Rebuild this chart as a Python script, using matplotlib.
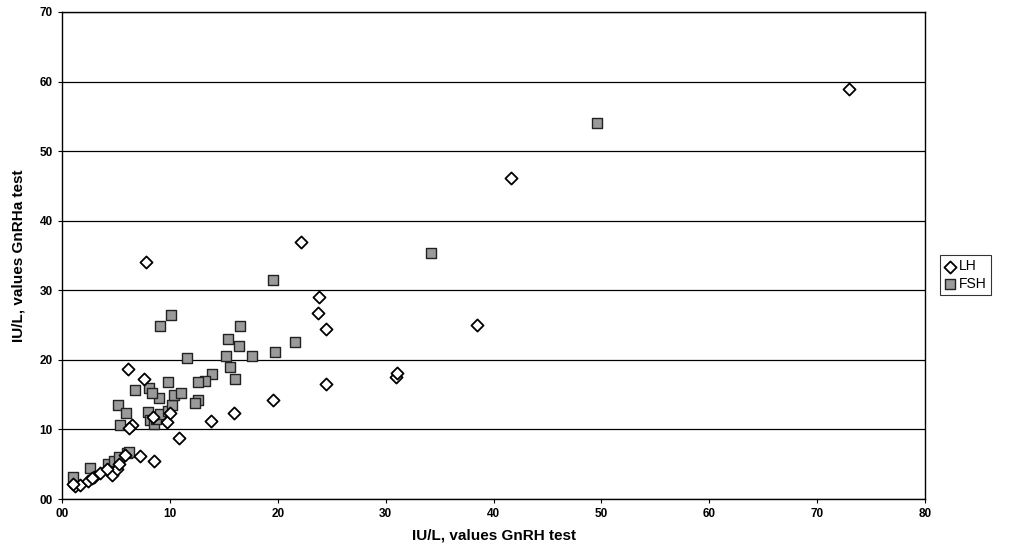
import matplotlib.pyplot as plt
from matplotlib.ticker import FuncFormatter

plt.rcParams['font.family'] = ['Liberation Sans', 'DejaVu Sans']

# LH - GnRH test vs GnRHa test
lh_x = [73.0, 41.6, 38.5, 31.0, 31.1, 24.5, 24.5, 23.8, 23.7, 22.2, 19.6, 15.9,
        13.8, 10.8, 9.7, 7.8, 7.6, 6.1, 8.5, 7.2, 6.5, 6.2, 8.4, 10.0,
        1.2, 1.7, 2.4, 3.0, 2.8, 3.5, 4.6, 5.1, 5.3, 4.2, 5.8, 1.0]
lh_y = [59.0, 46.2, 25.0, 17.6, 18.1, 16.6, 24.5, 29.0, 26.8, 37.0, 14.3, 12.4,
        11.2, 8.7, 11.0, 34.0, 17.2, 18.7, 5.5, 6.2, 10.6, 10.2, 11.8, 12.4,
        1.8, 2.0, 2.6, 3.2, 3.0, 3.8, 3.5, 4.3, 5.0, 4.3, 6.3, 2.2]

# FSH - GnRH test vs GnRHa test
fsh_x = [49.6, 34.2, 19.6, 10.1, 9.1, 16.5, 15.4, 21.6, 16.4, 19.7, 17.6, 15.2,
         11.6, 15.6, 9.8, 13.9, 13.3, 12.6, 16.0, 6.8, 5.2, 5.9, 5.4, 8.0,
         8.2, 8.5, 8.7, 9.1, 9.8, 10.2, 10.4, 9.0, 12.6, 12.3, 11.0, 8.1,
         1.0, 2.6, 4.3, 4.8, 5.3, 6.0, 6.2, 8.3]
fsh_y = [54.0, 35.3, 31.5, 26.5, 24.8, 24.8, 23.0, 22.6, 22.0, 21.1, 20.6, 20.6,
         20.3, 19.0, 16.8, 18.0, 17.0, 16.8, 17.3, 15.6, 13.5, 12.4, 10.7, 12.5,
         11.3, 10.8, 11.5, 12.2, 12.7, 13.5, 15.0, 14.5, 14.2, 13.8, 15.2, 16.0,
         3.2, 4.5, 5.0, 5.5, 6.0, 6.6, 6.8, 15.2]

x_ticks = [0, 10, 20, 30, 40, 50, 60, 70, 80]
y_ticks = [0, 10, 20, 30, 40, 50, 60, 70]

fig = plt.figure(figsize=(10.11, 5.53), dpi=100)
ax = fig.add_axes([62/1011, 54/553, 863/1011, 487/553])

ax.scatter(fsh_x, fsh_y, marker='s', s=55, facecolor='#9a9a9a',
           edgecolor='#222222', linewidth=1.0, label='FSH', zorder=3)
ax.scatter(lh_x, lh_y, marker='D', s=38, facecolor='white',
           edgecolor='black', linewidth=1.3, label='LH', zorder=4)

ax.set_xlim(0, 80)
ax.set_ylim(0, 70)
ax.set_xticks(x_ticks)
ax.set_yticks(y_ticks)
fmt = FuncFormatter(lambda v, p: f"{v:02.0f}")
ax.xaxis.set_major_formatter(fmt)
ax.yaxis.set_major_formatter(fmt)
ax.tick_params(labelsize=8.5, length=3, width=0.8, colors='black')
for lab in ax.get_xticklabels() + ax.get_yticklabels():
    lab.set_fontweight('bold')

ax.yaxis.grid(True, color='black', linewidth=0.9)
ax.set_axisbelow(True)
for sp in ax.spines.values():
    sp.set_color('black')
    sp.set_linewidth(1.0)

ax.set_xlabel('IU/L, values GnRH test', fontsize=11, fontweight='bold', labelpad=6)
ax.set_ylabel('IU/L, values GnRHa test', fontsize=11, fontweight='bold', labelpad=10)

h, l = ax.get_legend_handles_labels()
leg = ax.legend(h[::-1], l[::-1], loc='center left', bbox_to_anchor=(1.017, 0.46),
                fontsize=10, frameon=True, fancybox=False, handletextpad=0.2,
                borderpad=0.3, handlelength=0.9, labelspacing=0.25, borderaxespad=0)
leg.get_frame().set_edgecolor('black')
leg.get_frame().set_linewidth(0.8)

fig.savefig('out.png', dpi=100)
